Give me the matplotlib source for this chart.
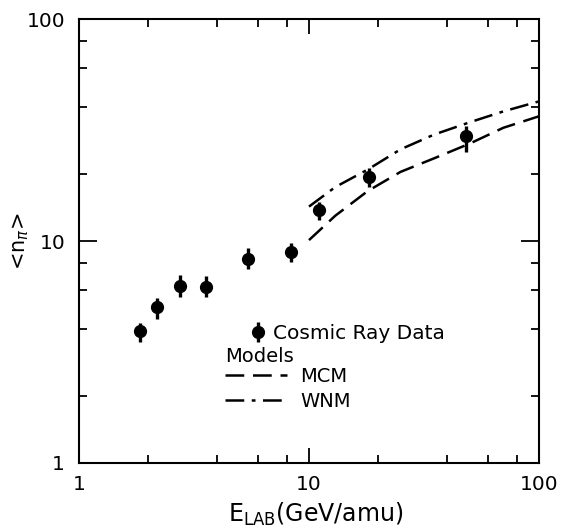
import matplotlib
matplotlib.use("Agg")
import matplotlib.pyplot as plt  # noqa: E402
from matplotlib.ticker import LogLocator, NullFormatter, FixedLocator  # noqa: E402

# cosmic ray data: E_LAB (GeV/amu), <n_pi>, lower / upper end of error bar
e_lab = [1.84, 2.18, 2.74, 3.58, 5.41, 8.33, 11.05, 18.3, 48.2]
n_pi = [3.94, 5.03, 6.27, 6.22, 8.30, 8.90, 13.8, 19.5, 29.8]
n_lo = [3.52, 4.44, 5.61, 5.61, 7.46, 8.07, 12.4, 17.5, 25.2]
n_hi = [4.29, 5.55, 7.03, 6.96, 9.27, 9.83, 15.0, 21.3, 33.0]

# model curves
model_e = [10, 13, 18, 25, 35, 50, 70, 100]
mcm = [10.1, 13.0, 16.8, 20.5, 23.6, 27.5, 32.4, 36.5]
wnm = [14.3, 17.5, 21.0, 25.9, 30.2, 34.3, 38.4, 42.6]

plt.rcParams["font.family"] = ["DejaVu Sans"]

fig = plt.figure(figsize=(5.61, 5.29), dpi=100)
ax = fig.add_axes([0.1408, 0.1248, 0.820, 0.839])

yerr = [[y - lo for y, lo in zip(n_pi, n_lo)], [hi - y for y, hi in zip(n_pi, n_hi)]]
pts = ax.errorbar(e_lab, n_pi, yerr=yerr, fmt="o", color="black", ms=8.5,
                  elinewidth=2.4, capsize=0, zorder=3)

l_mcm, = ax.plot(model_e, mcm, color="black", lw=1.8, dashes=(7.5, 3.5))
l_wnm, = ax.plot(model_e, wnm, color="black", lw=1.8, dashes=(7.5, 3, 1.5, 3))

ax.set_xscale("log")
ax.set_yscale("log")
ax.set_xlim(1, 100)
ax.set_ylim(1, 100)

for axis in (ax.xaxis, ax.yaxis):
    axis.set_major_locator(FixedLocator([1, 10, 100]))
    axis.set_minor_locator(LogLocator(base=10, subs=[2, 4, 6, 8]))
    axis.set_minor_formatter(NullFormatter())
ax.set_xticklabels(["1", "10", "100"])
ax.set_yticklabels(["1", "10", "100"])

ax.tick_params(which="both", direction="in", top=True, right=True, width=1.3,
               labelsize=14.5)
ax.tick_params(axis="x", which="major", length=11, pad=9)
ax.tick_params(axis="y", which="major", length=13, pad=10)
ax.tick_params(which="minor", length=6)
for s in ax.spines.values():
    s.set_linewidth(1.5)

ax.set_xlabel("E$_{\\mathrm{LAB}}$(GeV/amu)", fontsize=17)
ax.xaxis.set_label_coords(0.515, -0.085)
ax.set_ylabel("<n$_\\pi$>", fontsize=15)
ax.yaxis.set_label_coords(-0.105, 0.5)

leg1 = ax.legend([pts], ["Cosmic Ray Data"], loc="upper left",
                 bbox_to_anchor=(0.372, 0.313), frameon=False, fontsize=14.5,
                 handlelength=0.8, handletextpad=0.35, borderpad=0,
                 borderaxespad=0)
ax.add_artist(leg1)
leg2 = ax.legend([l_mcm, l_wnm], ["MCM", "WNM"], title="Models",
                 title_fontsize=14, alignment="left", loc="upper left",
                 bbox_to_anchor=(0.318, 0.262), frameon=False, fontsize=14,
                 handlelength=3.2, handletextpad=0.65, labelspacing=0.3,
                 borderpad=0, borderaxespad=0)
leg2._legend_box.sep = 1

fig.savefig("out.png", dpi=100)
